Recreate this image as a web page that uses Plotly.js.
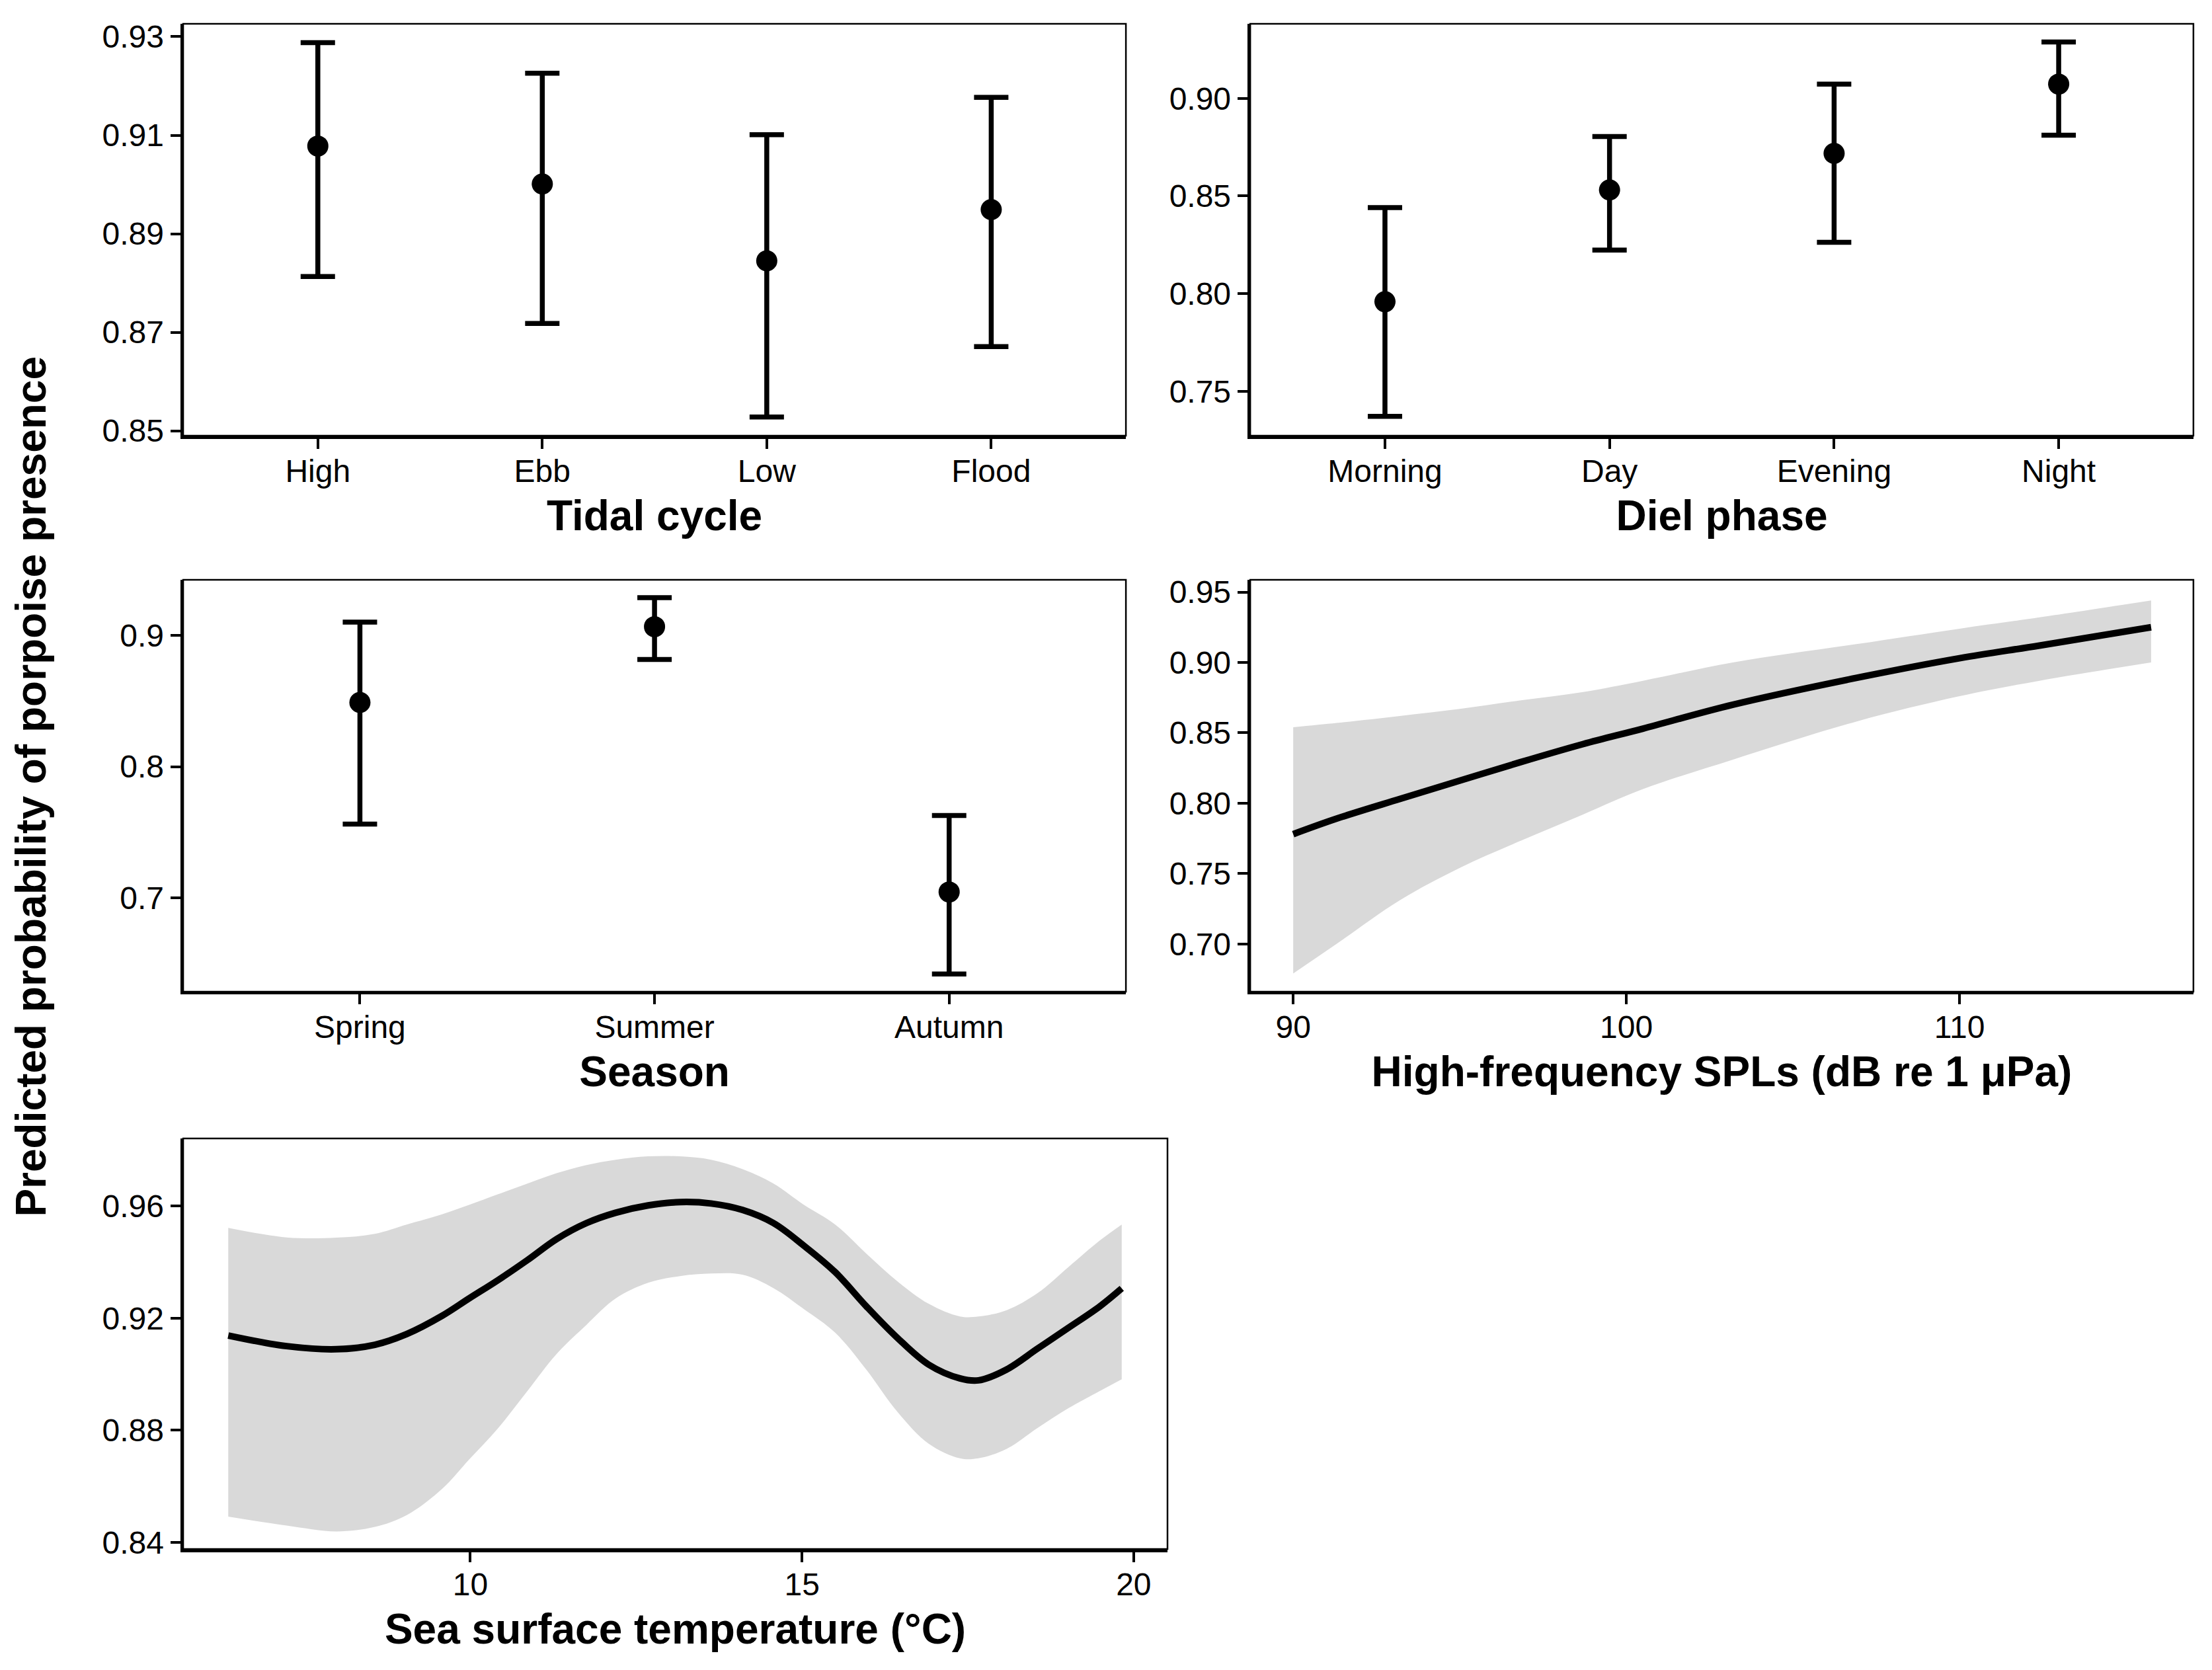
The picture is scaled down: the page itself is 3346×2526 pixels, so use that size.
<!DOCTYPE html>
<html>
<head>
<meta charset="utf-8">
<script src="https://cdn.plot.ly/plotly-3.0.1.min.js"></script>
<style>
  body { margin: 0; background: #fff; }
</style>
</head>
<body>
<div id="chart" style="width:3346px;height:2526px"></div>
<script>
// Tidal cycle
const tideLevels = ["High", "Ebb", "Low", "Flood"];
const tideFit = [0.9078, 0.9001, 0.8845, 0.8949];
const tideUpper = [0.9288, 0.9226, 0.9101, 0.9177];
const tideLower = [0.8813, 0.8718, 0.8528, 0.8671];

// Diel phase
const dielLevels = ["Morning", "Day", "Evening", "Night"];
const dielFit = [0.7959, 0.8531, 0.8718, 0.9073];
const dielUpper = [0.8441, 0.8804, 0.9073, 0.9288];
const dielLower = [0.7372, 0.8223, 0.8263, 0.8811];

// Season
const seasonLevels = ["Spring", "Summer", "Autumn"];
const seasonFit = [0.8489, 0.9066, 0.7046];
const seasonUpper = [0.9101, 0.9287, 0.7628];
const seasonLower = [0.7563, 0.8817, 0.6421];

// High-frequency SPLs
const splX = [90, 91.3, 93.2, 95, 96.8, 98.7, 100.5, 103.2, 106.9, 110, 112.4, 115.75];
const splFit = [0.778, 0.789, 0.803, 0.816, 0.829, 0.842, 0.853, 0.870, 0.889, 0.903, 0.912, 0.925];
const splUpper = [0.854, 0.857, 0.862, 0.867, 0.873, 0.879, 0.887, 0.900, 0.913, 0.924, 0.932, 0.944];
const splLower = [0.679, 0.700, 0.731, 0.754, 0.773, 0.792, 0.810, 0.831, 0.858, 0.876, 0.887, 0.900];

// Sea surface temperature
const sstX = [6.35, 7.23, 7.98, 8.56, 9.04, 9.58, 9.98, 10.42, 10.86, 11.30, 11.75, 12.19, 12.68,
  13.16, 13.63, 14.10, 14.57, 15.03, 15.50, 15.97, 16.44, 16.91, 17.38, 17.66, 18.08, 18.55,
  19.02, 19.49, 19.82];
const sstFit = [0.9138, 0.9100, 0.9089, 0.9105, 0.9143, 0.9209, 0.9270, 0.9336, 0.9407, 0.9482,
  0.9539, 0.9576, 0.9602, 0.9614, 0.9609, 0.9586, 0.9539, 0.9458, 0.9364, 0.9242, 0.9129,
  0.9034, 0.8985, 0.8978, 0.9016, 0.9091, 0.9166, 0.9242, 0.9306];
const sstUpper = [0.9522, 0.9488, 0.9487, 0.9501, 0.9534, 0.9571, 0.9604, 0.9642, 0.9680, 0.9717,
  0.9746, 0.9765, 0.9777, 0.9777, 0.9765, 0.9732, 0.9680, 0.9604, 0.9534, 0.9430, 0.9331,
  0.9251, 0.9206, 0.9206, 0.9228, 0.9289, 0.9383, 0.9477, 0.9534];
const sstLower = [0.8492, 0.8460, 0.8439, 0.8455, 0.8497, 0.8592, 0.8695, 0.8808, 0.8940, 0.9072,
  0.9176, 0.9270, 0.9326, 0.9350, 0.9359, 0.9355, 0.9307, 0.9232, 0.9148, 0.9016, 0.8865,
  0.8752, 0.8700, 0.8700, 0.8733, 0.8808, 0.8879, 0.8940, 0.8982];

const FONT = "Liberation Sans, Arial, sans-serif";
const RIBBON = "#d9d9d9";

function pointRange(levels, fit, upper, lower, axis) {
  return {
    type: "scatter",
    mode: "markers",
    x: levels,
    y: fit,
    xaxis: "x" + axis,
    yaxis: "y" + axis,
    marker: { color: "#000", size: 32 },
    error_y: {
      type: "data",
      symmetric: false,
      array: upper.map((u, i) => u - fit[i]),
      arrayminus: lower.map((l, i) => fit[i] - l),
      color: "#000",
      thickness: 7.5,
      width: 26,
    },
    showlegend: false,
    hoverinfo: "skip",
  };
}

function ribbon(x, fit, upper, lower, axis) {
  const ax = { xaxis: "x" + axis, yaxis: "y" + axis, showlegend: false, hoverinfo: "skip" };
  return [
    Object.assign({ type: "scatter", mode: "lines", x: x, y: lower,
      line: { width: 0, shape: "spline", color: RIBBON } }, ax),
    Object.assign({ type: "scatter", mode: "lines", x: x, y: upper, fill: "tonexty",
      fillcolor: RIBBON, line: { width: 0, shape: "spline", color: RIBBON } }, ax),
    Object.assign({ type: "scatter", mode: "lines", x: x, y: fit,
      line: { width: 10, shape: "spline", color: "#000" } }, ax),
  ];
}

function axisStyle(extra) {
  return Object.assign({
    showline: true,
    linewidth: 4.5,
    linecolor: "#000",
    ticks: "outside",
    ticklen: 15,
    tickwidth: 4,
    tickcolor: "#000",
    showgrid: false,
    zeroline: false,
    fixedrange: true,
    tickfont: { family: FONT, size: 48, color: "#000" },
  }, extra);
}

function xAxis(extra, text) {
  return axisStyle(Object.assign({
    ticklabelstandoff: -7,
    title: { text: text, standoff: 20, font: { family: FONT, size: 64, color: "#000", weight: "bold" } },
  }, extra));
}

const data = [
  pointRange(tideLevels, tideFit, tideUpper, tideLower, ""),
  pointRange(dielLevels, dielFit, dielUpper, dielLower, "2"),
  pointRange(seasonLevels, seasonFit, seasonUpper, seasonLower, "3"),
  ...ribbon(splX, splFit, splUpper, splLower, "4"),
  ...ribbon(sstX, sstFit, sstUpper, sstLower, "5"),
];

const colL = [0.0828, 0.509];
const colR = [0.5652, 0.9916];
const row1 = [0.7391, 0.9857];
const row2 = [0.4062, 0.6528];
const row3 = [0.0724, 0.3183];

const layout = {
  width: 3346,
  height: 2526,
  margin: { l: 0, r: 0, t: 0, b: 0 },
  paper_bgcolor: "#fff",
  plot_bgcolor: "#fff",
  font: { family: FONT, color: "#000" },
  showlegend: false,

  xaxis: xAxis({ domain: colL, anchor: "y", type: "category", range: [-0.6, 3.6] }, "Tidal cycle"),
  yaxis: axisStyle({ domain: row1, anchor: "x", range: [0.849, 0.9326],
    tickvals: [0.85, 0.87, 0.89, 0.91, 0.93], tickformat: ".2f" }),

  xaxis2: xAxis({ domain: colR, anchor: "y2", type: "category", range: [-0.6, 3.6] }, "Diel phase"),
  yaxis2: axisStyle({ domain: row1, anchor: "x2", range: [0.7273, 0.9381],
    tickvals: [0.75, 0.8, 0.85, 0.9], tickformat: ".2f" }),

  xaxis3: xAxis({ domain: colL, anchor: "y3", type: "category", range: [-0.6, 2.6] }, "Season"),
  yaxis3: axisStyle({ domain: row2, anchor: "x3", range: [0.6287, 0.9423],
    tickvals: [0.7, 0.8, 0.9], tickformat: ".1f" }),

  xaxis4: xAxis({ domain: colR, anchor: "y4", range: [88.71, 117.02], tickvals: [90, 100, 110] },
    "High-frequency SPLs (dB re 1 μPa)"),
  yaxis4: axisStyle({ domain: row2, anchor: "x4", range: [0.6661, 0.9587],
    tickvals: [0.7, 0.75, 0.8, 0.85, 0.9, 0.95], tickformat: ".2f" }),

  xaxis5: xAxis({ domain: [0.0828, 0.5278], anchor: "y5", range: [5.67, 20.51], tickvals: [10, 15, 20] },
    "Sea surface temperature (°C)"),
  yaxis5: axisStyle({ domain: row3, anchor: "x5", range: [0.8376, 0.9841],
    tickvals: [0.84, 0.88, 0.92, 0.96], tickformat: ".2f" }),

  shapes: ["", "2", "3", "4", "5"].map((n) => ({
    type: "rect",
    xref: "x" + n + " domain",
    yref: "y" + n + " domain",
    x0: 0, x1: 1, y0: 0, y1: 1,
    line: { color: "#000", width: 2.5 },
    layer: "above",
  })),

  annotations: [{
    text: "Predicted probability of porpoise presence",
    xref: "paper", yref: "paper",
    x: 0.014, y: 0.529,
    xanchor: "center", yanchor: "middle",
    textangle: -90,
    showarrow: false,
    font: { family: FONT, size: 64, color: "#000", weight: "bold" },
  }],
};

Plotly.newPlot("chart", data, layout, { displayModeBar: false, staticPlot: true });
</script>
</body>
</html>
